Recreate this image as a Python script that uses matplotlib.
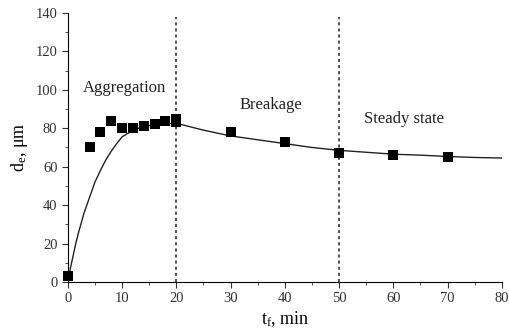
import matplotlib.pyplot as plt
from matplotlib.ticker import MultipleLocator

# Measured points
t_data = [0, 4, 6, 8, 10, 12, 14, 16, 18, 20, 20, 30, 40, 50, 60, 70]
d_data = [3, 70, 78, 84, 80, 80, 81, 82, 84, 85, 83, 78, 73, 67, 66, 65]

# Model curve
t_fit = [0, 0.5, 1, 1.5, 2, 3, 4, 5, 6, 7, 8, 9, 10, 12, 14, 16, 18, 20,
         25, 30, 35, 40, 45, 50, 55, 60, 65, 70, 75, 80]
d_fit = [0, 7.5, 14, 20.5, 26, 36, 44, 52, 58, 63.5, 68, 72, 75.5, 79, 81, 81.8, 82.3, 82.6,
         79, 76, 74, 72, 70, 68.5, 67.5, 66.5, 66, 65.3, 64.8, 64.5]

region_bounds = [20, 50]
region_labels = ['Aggregation', 'Breakage', 'Steady state']
label_x = [10.5, 37.5, 62]
label_y = [101, 92, 85]

plt.rcParams.update({
    'font.family': ['Liberation Serif', 'DejaVu Serif'],
    'mathtext.fontset': 'custom',
    'mathtext.rm': 'Liberation Serif',
    'mathtext.it': 'Liberation Serif',
})

fig = plt.figure(figsize=(5.1, 3.31), dpi=100)
ax = fig.add_axes([0.133, 0.148, 0.851, 0.813])

ax.plot(t_fit, d_fit, color='#222222', linewidth=1.0)
ax.plot(t_data, d_data, 's', color='black', markersize=7, markeredgewidth=0,
        clip_on=False, zorder=3)

for xb in region_bounds:
    ax.vlines(xb, 0, 138, colors='#222222', linestyles=(0, (2, 2)), linewidth=1.1)

for txt, x, y in zip(region_labels, label_x, label_y):
    ax.text(x, y, txt, ha='center', va='center', fontsize=12, color='#222222')

ax.set_xlim(0, 80)
ax.set_ylim(0, 140)
ax.xaxis.set_major_locator(MultipleLocator(10))
ax.xaxis.set_minor_locator(MultipleLocator(5))
ax.yaxis.set_major_locator(MultipleLocator(20))
ax.yaxis.set_minor_locator(MultipleLocator(10))
ax.spines['top'].set_visible(False)
ax.spines['right'].set_visible(False)
ax.tick_params(which='both', direction='out', labelsize=10.5, colors='#333333')
ax.tick_params(which='major', length=4)
ax.tick_params(which='minor', length=2.5)

ax.set_xlabel(r'$\mathregular{t_f}$, min', fontsize=13, labelpad=3)
ax.set_ylabel(r'$\mathregular{d_e}$, μm', fontsize=13, labelpad=4)

plt.savefig('out.png', dpi=100)
